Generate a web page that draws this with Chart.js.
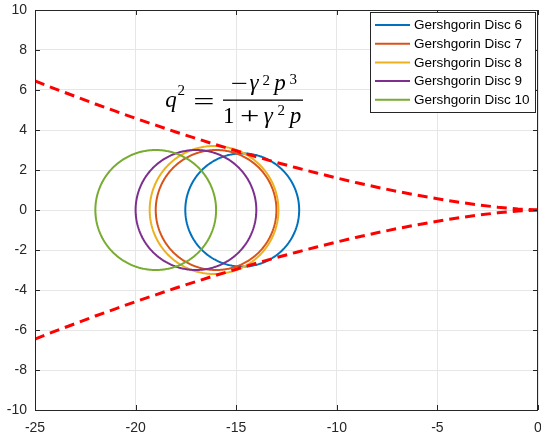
<!DOCTYPE html>
<html>
<head>
<meta charset="utf-8">
<script src="https://cdn.jsdelivr.net/npm/chart.js@4.4.0/dist/chart.umd.min.js"></script>
<style>
  html, body { margin: 0; padding: 0; background: #fff; }
  #wrap { width: 541px; height: 439px; }
</style>
</head>
<body>
<div id="wrap"><canvas id="chart" width="541" height="439"></canvas></div>
<script>
// Gershgorin discs (centre on the real axis, radius)
const discLabels = ['Gershgorin Disc 6', 'Gershgorin Disc 7', 'Gershgorin Disc 8', 'Gershgorin Disc 9', 'Gershgorin Disc 10'];
const discCenters = [-14.7, -16.0, -16.1, -17.0, -19.0];
const discRadii = [2.83, 3.0, 3.2, 3.0, 3.0];
const discColors = ['#0072BD', '#D95319', '#EDB120', '#7E2F8E', '#77AC30'];

// boundary curve (upper branch, lower is its mirror)
const curveP = [-25, -24, -23, -22, -21, -20, -19, -18, -17, -16, -15, -14, -13, -12, -11, -10, -9, -8, -7, -6, -5, -4, -3, -2, -1, 0];
const curveQ = [6.45, 6.06, 5.68, 5.30, 4.94, 4.58, 4.24, 3.90, 3.58, 3.26, 2.96, 2.66, 2.38, 2.11, 1.85, 1.60, 1.36, 1.14, 0.93, 0.74, 0.56, 0.40, 0.26, 0.14, 0.05, 0];

const xTicks = [-25, -20, -15, -10, -5, 0];
const yTicks = [-10, -8, -6, -4, -2, 0, 2, 4, 6, 8, 10];

const FONT = 'Liberation Sans, Arial, sans-serif';
const AXIS_COLOR = '#262626';

function circlePoints(cx, r) {
    const pts = [];
    for (let i = 0; i <= 180; i++) {
        const t = Math.PI / 2 + i / 180 * Math.PI * 2;
        pts.push({ x: cx + r * Math.cos(t), y: r * Math.sin(t) });
    }
    return pts;
}

const datasets = discLabels.map((label, i) => ({
    label: label,
    data: circlePoints(discCenters[i], discRadii[i]),
    borderColor: discColors[i],
    borderWidth: 2,
    borderJoinStyle: 'round',
    tension: 0.1,   // also keeps Chart.js off its x-sorted fast path
    showLine: true,
    pointRadius: 0,
    fill: false,
    order: 10 - i,
    inLegend: true
}));

['upper', 'lower'].forEach((name, k) => {
    datasets.push({
        label: name,
        data: curveP.map((p, i) => ({ x: p, y: k === 0 ? curveQ[i] : -curveQ[i] })),
        borderColor: '#FF0000',
        borderWidth: 3,
        borderDash: [10, 6],
        showLine: true,
        pointRadius: 0,
        fill: false,
        order: 0,
        inLegend: false
    });
});

// draws one glyph so that its ink sits in x0..x1 (stretched only if stretch is set)
function fitGlyph(ctx, t, x0, x1, y, size, italic, stretch) {
    ctx.font = (italic ? 'italic ' : '') + size + 'px Liberation Serif, DejaVu Serif, serif';
    const m = ctx.measureText(t);
    const ink = m.actualBoundingBoxLeft + m.actualBoundingBoxRight;
    let sx = 1, base = y, left = (x0 + x1 - ink) / 2;
    if (stretch) {
        sx = (x1 - x0) / ink;
        left = x0;
        base = y + (m.actualBoundingBoxAscent - m.actualBoundingBoxDescent) / 2;
    }
    ctx.save();
    ctx.translate(left, base);
    ctx.scale(sx, 1);
    ctx.fillText(t, m.actualBoundingBoxLeft, 0);
    ctx.restore();
}

// box, inner ticks, legend and the formula
const decorations = {
    id: 'decorations',
    afterDatasetsDraw(chart) {
        const ctx = chart.ctx;
        const a = chart.chartArea;
        const xs = chart.scales.x, ys = chart.scales.y;
        ctx.save();
        ctx.strokeStyle = AXIS_COLOR;
        ctx.lineWidth = 1;
        ctx.strokeRect(Math.round(a.left) + 0.5, Math.round(a.top) + 0.5, Math.round(a.right - a.left) - 1, Math.round(a.bottom - a.top));
        ctx.beginPath();
        xTicks.forEach(v => {
            const px = Math.round(xs.getPixelForValue(v)) + 0.5;
            ctx.moveTo(px, a.bottom); ctx.lineTo(px, a.bottom - 5);
            ctx.moveTo(px, a.top); ctx.lineTo(px, a.top + 5);
        });
        yTicks.forEach(v => {
            const py = Math.round(ys.getPixelForValue(v)) + 0.5;
            ctx.moveTo(a.left, py); ctx.lineTo(a.left + 5, py);
            ctx.moveTo(a.right, py); ctx.lineTo(a.right - 5, py);
        });
        ctx.stroke();
        ctx.restore();
    },
    afterDraw(chart) {
        const ctx = chart.ctx;
        ctx.save();

        // legend
        const items = chart.data.datasets.filter(d => d.inLegend);
        const lx = 370, ly = 12, lw = 165, lh = 100, rowH = 18.7;
        ctx.fillStyle = '#fff';
        ctx.fillRect(lx, ly, lw, lh);
        ctx.strokeStyle = AXIS_COLOR;
        ctx.lineWidth = 1;
        ctx.strokeRect(lx + 0.5, ly + 0.5, lw, lh);
        ctx.font = '13.5px ' + FONT;
        ctx.textBaseline = 'middle';
        items.forEach((d, i) => {
            const y = ly + 13 + i * rowH;
            ctx.strokeStyle = d.borderColor;
            ctx.lineWidth = 2;
            ctx.beginPath();
            ctx.moveTo(lx + 5, y); ctx.lineTo(lx + 40, y);
            ctx.stroke();
            ctx.fillStyle = '#000';
            ctx.fillText(d.label, lx + 44, y + 0.5);
        });

        // formula q^2 = -gamma^2 p^3 / (1 + gamma^2 p)
        ctx.fillStyle = '#000';
        ctx.textBaseline = 'alphabetic';
        const B = 23, S = 15;
        fitGlyph(ctx, 'q', 165, 176.5, 106.5, B, true);
        fitGlyph(ctx, '2', 177, 185, 95, S, false);
        fitGlyph(ctx, '=', 195, 213, 101.7, B, false, true);
        ctx.fillRect(223, 99.5, 80, 1.3);
        fitGlyph(ctx, '\u2212', 232, 246.5, 83, B, false, true);
        fitGlyph(ctx, '\u03b3', 247, 262, 90, B, true);
        fitGlyph(ctx, '2', 262, 270, 84.5, S, false);
        fitGlyph(ctx, 'p', 271, 286.5, 90, B, true);
        fitGlyph(ctx, '3', 288, 298, 83.5, S, false);
        fitGlyph(ctx, '1', 225, 234, 123.3, B, false);
        fitGlyph(ctx, '+', 241.5, 258, 116, B, false, true);
        fitGlyph(ctx, '\u03b3', 261, 276.5, 123.3, B, true);
        fitGlyph(ctx, '2', 277, 285, 115, S, false);
        fitGlyph(ctx, 'p', 287, 301.5, 123.3, B, true);
        ctx.restore();
    }
};

const ctx = document.getElementById('chart').getContext('2d');
new Chart(ctx, {
    type: 'scatter',
    data: { datasets: datasets },
    options: {
        responsive: false,
        animation: false,
        layout: { padding: { top: 10, right: 3, left: 0, bottom: 0 } },
        plugins: {
            legend: { display: false },
            tooltip: { enabled: false }
        },
        scales: {
            x: {
                type: 'linear',
                min: -25,
                max: 0,
                afterBuildTicks: axis => { axis.ticks = xTicks.map(v => ({ value: v })); },
                afterFit: axis => { axis.height = 29; axis.paddingLeft = 0; axis.paddingRight = 0; },
                grid: { color: '#e6e6e6', drawTicks: false },
                border: { display: false },
                ticks: { color: AXIS_COLOR, font: { family: FONT, size: 14 }, padding: 10, maxRotation: 0 }
            },
            y: {
                type: 'linear',
                min: -10,
                max: 10,
                afterBuildTicks: axis => { axis.ticks = yTicks.map(v => ({ value: v })); },
                afterFit: axis => { axis.width = 35; axis.paddingTop = 0; axis.paddingBottom = 0; },
                grid: { color: '#e6e6e6', drawTicks: false },
                border: { display: false },
                ticks: { color: AXIS_COLOR, font: { family: FONT, size: 14 }, padding: 8 }
            }
        }
    },
    plugins: [decorations]
});
</script>
</body>
</html>
